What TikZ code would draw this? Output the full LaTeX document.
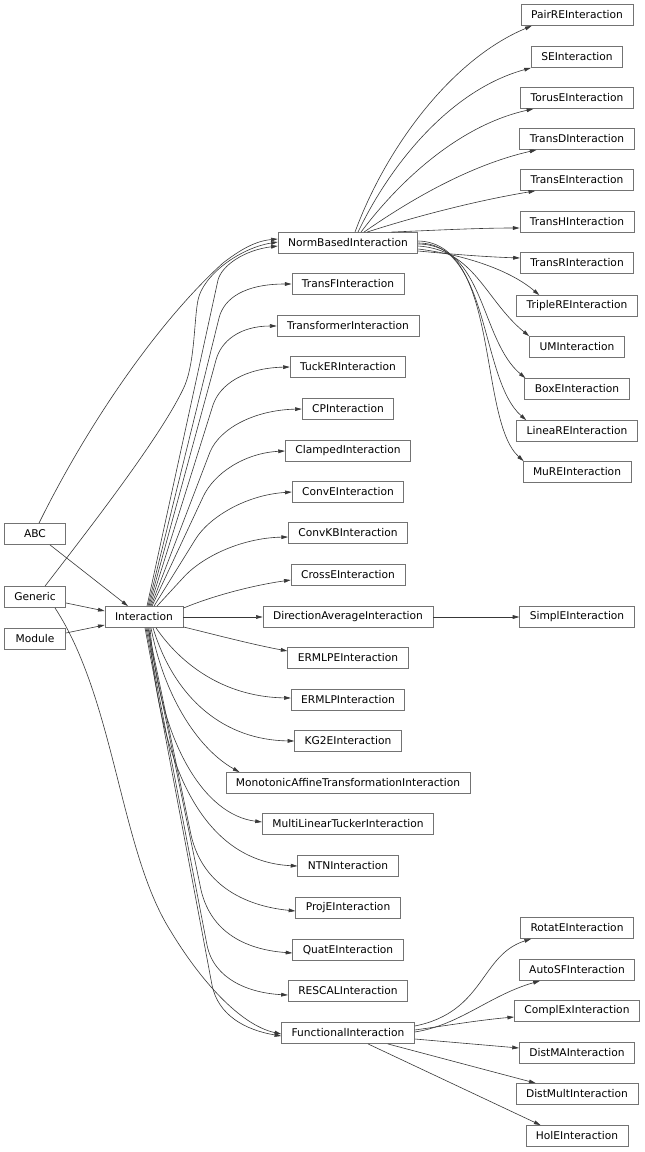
\documentclass[tikz,border=0pt]{standalone}
\usepackage{fontspec}
\setmainfont{DejaVu Sans}
\usetikzlibrary{arrows.meta,calc}
\begin{document}
\begin{tikzpicture}[x=0.75pt,y=-0.75pt,
  box/.style={draw=black!55, line width=0.6pt, fill=white, inner xsep=7.5pt, inner ysep=0pt,
    minimum height=15.75pt, font=\fontsize{8pt}{9.6pt}\selectfont, text=black},
  lbox/.style={box, minimum width=45.75pt},
  conn/.style={draw=black!78, line width=0.45pt, -{Triangle[length=5pt,width=2.8pt]}}]
\fill[white] (0,0) rectangle (645,1152);
\useasboundingbox (0,0) rectangle (645,1152);

% left column
\node[lbox] (ABC) at (35,534) {ABC};
\node[lbox] (Generic) at (35,597) {Generic};
\node[lbox] (Module) at (35,639) {Module};
\node[box] (Interaction) at (144,617) {Interaction};

% middle column
\node[box] (NormBased) at (348,243) {NormBasedInteraction};
\node[box] (TransF) at (348,284) {TransFInteraction};
\node[box] (Transformer) at (348,326) {TransformerInteraction};
\node[box] (TuckER) at (348,367) {TuckERInteraction};
\node[box] (CP) at (348,409) {CPInteraction};
\node[box] (Clamped) at (348,451) {ClampedInteraction};
\node[box] (ConvE) at (348,492) {ConvEInteraction};
\node[box] (ConvKB) at (348,533) {ConvKBInteraction};
\node[box] (CrossE) at (348,575) {CrossEInteraction};
\node[box] (DirAvg) at (348,617) {DirectionAverageInteraction};
\node[box] (ERMLPE) at (348,658) {ERMLPEInteraction};
\node[box] (ERMLP) at (348,700) {ERMLPInteraction};
\node[box] (KGE) at (348,741) {KG2EInteraction};
\node[box] (Monotonic) at (348,783) {MonotonicAffineTransformationInteraction};
\node[box] (MultiLinear) at (348,824) {MultiLinearTuckerInteraction};
\node[box] (NTN) at (348,866) {NTNInteraction};
\node[box] (ProjE) at (348,908) {ProjEInteraction};
\node[box] (QuatE) at (348,950) {QuatEInteraction};
\node[box] (RESCAL) at (348,991) {RESCALInteraction};
\node[box] (Functional) at (348,1033) {FunctionalInteraction};

% right column
\node[box] (PairRE) at (577,15) {PairREInteraction};
\node[box] (SE) at (577,57) {SEInteraction};
\node[box] (TorusE) at (577,98) {TorusEInteraction};
\node[box] (TransD) at (577,139) {TransDInteraction};
\node[box] (TransE) at (577,180) {TransEInteraction};
\node[box] (TransH) at (577,222) {TransHInteraction};
\node[box] (TransR) at (577,263) {TransRInteraction};
\node[box] (TripleRE) at (577,306) {TripleREInteraction};
\node[box] (UM) at (577,347) {UMInteraction};
\node[box] (BoxE) at (577,389) {BoxEInteraction};
\node[box] (LineaRE) at (577,431) {LineaREInteraction};
\node[box] (MuRE) at (577,472) {MuREInteraction};
\node[box] (SimplE) at (577,617) {SimplEInteraction};
\node[box] (RotatE) at (577,928) {RotatEInteraction};
\node[box] (AutoSF) at (577,970) {AutoSFInteraction};
\node[box] (ComplEx) at (577,1011) {ComplExInteraction};
\node[box] (DistMA) at (577,1053) {DistMAInteraction};
\node[box] (DistMult) at (577,1094) {DistMultInteraction};
\node[box] (HolE) at (577,1136) {HolEInteraction};

% left edges
\draw[conn] ($(ABC.south)+(15,0)$) -- ($(Interaction.north)+(-16,0)$);
\draw[conn] ($(Generic.east)+(0,6)$) -- ($(Interaction.west)+(0,-6)$);
\draw[conn] ($(Module.east)+(0,-6)$) -- ($(Interaction.west)+(0,8)$);
\draw[conn] ($(ABC.north)+(4,0)$) .. controls (90,420) and (160,320) .. (223,263)
  .. controls (240,250) and (255,241) .. ($(NormBased.west)+(0,-4)$);
\draw[conn] ($(Generic.north)+(10,0)$) .. controls (100,515) and (165,430) .. (185,385)
  .. controls (195,360) and (194,320) .. (198,300)
  .. controls (203,275) and (240,248) .. ($(NormBased.west)+(0,-1)$);
\draw[conn] ($(Generic.south)+(20,0)$) .. controls (115,700) and (120,850) .. (170,930)
  .. controls (200,980) and (240,1025) .. ($(Functional.west)+(0,1)$);

% Interaction upward fan
\draw[conn] ($(Interaction.north)+(3,0)$) -- (218,280) .. controls (222,265) and (245,250) .. ($(NormBased.west)+(0,3)$);
\draw[conn] ($(Interaction.north)+(4,0)$) -- (219,318) .. controls (224,298) and (245,284) .. (TransF.west);
\draw[conn] ($(Interaction.north)+(5,0)$) -- (216,360) .. controls (221,341) and (240,326) .. (Transformer.west);
\draw[conn] ($(Interaction.north)+(6,0)$) -- (213,405) .. controls (220,384) and (245,368) .. (TuckER.west);
\draw[conn] ($(Interaction.north)+(7,0)$) -- (210,452) .. controls (220,428) and (255,410) .. (CP.west);
\draw[conn] ($(Interaction.north)+(8,0)$) -- (203,497) .. controls (214,473) and (245,453) .. (Clamped.west);
\draw[conn] ($(Interaction.north)+(10,0)$) -- (195,540) .. controls (208,518) and (245,495) .. (ConvE.west);
\draw[conn] ($(Interaction.north)+(13,0)$) -- (182,579) .. controls (200,558) and (240,538) .. ($(ConvKB.west)+(0,4)$);
\draw[conn] ($(Interaction.north east)+(0,2)$) .. controls (215,595) and (255,585) .. ($(CrossE.west)+(0,5)$);

% Interaction right / downward fan
\draw[conn] (Interaction.east) -- (DirAvg.west);
\draw[conn] ($(Interaction.south east)+(0,-1)$) .. controls (220,636) and (255,645) .. ($(ERMLPE.west)+(0,-7)$);
\draw[conn] ($(Interaction.south)+(12,0)$) .. controls (185,670) and (230,697) .. ($(ERMLP.west)+(0,-2)$);
\draw[conn] ($(Interaction.south)+(9,0)$) .. controls (175,700) and (225,740) .. (KGE.west);
\draw[conn] ($(Interaction.south)+(7,0)$) .. controls (165,700) and (200,750) .. ($(Monotonic.north west)+(14,0)$);
\draw[conn] ($(Interaction.south)+(6,0)$) .. controls (160,745) and (205,815) .. ($(MultiLinear.west)+(0,-2)$);
\draw[conn] ($(Interaction.south)+(5,0)$) .. controls (162,790) and (215,862) .. (NTN.west);
\draw[conn] ($(Interaction.south)+(4,0)$) -- (190,830) .. controls (200,885) and (245,906) .. ($(ProjE.west)+(0,3)$);
\draw[conn] ($(Interaction.south)+(3,0)$) -- (200,885) .. controls (209,935) and (250,950) .. ($(QuatE.west)+(0,3)$);
\draw[conn] ($(Interaction.south)+(2,0)$) -- (207,945) .. controls (214,980) and (250,993) .. ($(RESCAL.west)+(0,4)$);
\draw[conn] ($(Interaction.south)+(1,0)$) -- (212,985) .. controls (218,1015) and (245,1030) .. ($(Functional.west)+(0,3)$);

% NormBased children
\draw[conn] ($(NormBased.north)+(7,0)$) .. controls (385,150) and (450,60) .. ($(PairRE.south west)+(11,0)$);
\draw[conn] ($(NormBased.north)+(10,0)$) .. controls (390,165) and (450,90) .. (SE.south west);
\draw[conn] ($(NormBased.north)+(13,0)$) .. controls (400,180) and (460,125) .. ($(TorusE.south west)+(13,0)$);
\draw[conn] ($(NormBased.north)+(16,0)$) .. controls (410,200) and (470,165) .. ($(TransD.south west)+(17,0)$);
\draw[conn] ($(NormBased.north)+(19,0)$) .. controls (420,215) and (480,200) .. ($(TransE.south west)+(15,0)$);
\draw[conn] ($(NormBased.north east)+(-27,0)$) .. controls (440,230) and (480,228) .. ($(TransH.west)+(0,6)$);
\draw[conn] ($(NormBased.east)+(0,8)$) .. controls (460,255) and (490,257) .. ($(TransR.west)+(0,-5)$);
\draw[conn] ($(NormBased.east)+(0,6)$) .. controls (465,255) and (510,270) .. ($(TripleRE.north west)+(23,0)$);
\draw[conn] ($(NormBased.east)+(0,3)$) .. controls (475,250) and (485,300) .. (UM.north west);
\draw[conn] ($(NormBased.east)+(0,1)$) .. controls (485,245) and (480,340) .. ($(BoxE.north west)+(1,0)$);
\draw[conn] (NormBased.east) .. controls (490,243) and (480,380) .. ($(LineaRE.north west)+(10,0)$);
\draw[conn] ($(NormBased.east)+(0,-2)$) .. controls (500,243) and (478,420) .. ($(MuRE.north west)+(1,0)$);

% DirectionAverage
\draw[conn] (DirAvg.east) -- (SimplE.west);

% Functional children
\draw[conn] ($(Functional.east)+(0,-7)$) .. controls (485,1012) and (480,955) .. ($(RotatE.south west)+(11,0)$);
\draw[conn] ($(Functional.east)+(0,-1)$) .. controls (460,1025) and (490,995) .. ($(AutoSF.south west)+(21,0)$);
\draw[conn] ($(Functional.east)+(0,-3)$) .. controls (450,1025) and (480,1020) .. ($(ComplEx.west)+(0,6)$);
\draw[conn] ($(Functional.east)+(0,6)$) -- ($(DistMA.west)+(0,-5)$);
\draw[conn] ($(Functional.south east)+(-27,0)$) -- ($(DistMult.north west)+(20,0)$);
\draw[conn] ($(Functional.south)+(20,0)$) -- ($(HolE.north west)+(15,0)$);
\end{tikzpicture}
\end{document}
